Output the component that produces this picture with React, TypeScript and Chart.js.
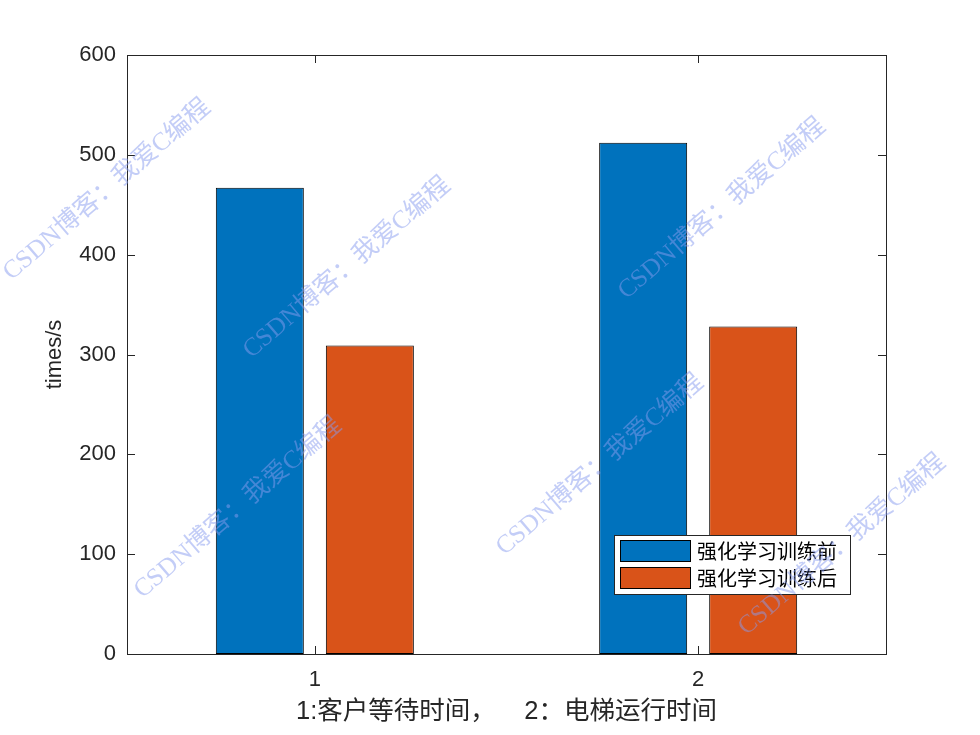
import React, { useEffect, useRef } from 'react';
import { Chart, registerables } from 'chart.js';

Chart.register(...registerables);

const categories = [1, 2];
const seriesLabels = ['强化学习训练前', '强化学习训练后'];
const beforeTraining = [467, 512];
const afterTraining = [309, 328];
const seriesColors = ['#0072BD', '#D95319'];
const yTickValues = [0, 100, 200, 300, 400, 500, 600];
const xAxisTitle = '1:客户等待时间，    2：电梯运行时间';
const yAxisTitle = 'times/s';
const watermarkText = 'CSDN博客：我爱C编程';

const watermarkSpots = [
  [107, 190],
  [347, 268],
  [238, 508],
  [722, 209],
  [600, 465],
  [842, 545],
];

const AXIS_COLOR = '#262626';
const SANS = '"Liberation Sans", Arial, "Noto Sans CJK SC", sans-serif';

const boxPlugin = {
  id: 'matlabBox',
  afterDatasetsDraw(chart: any) {
    const { ctx, chartArea } = chart;
    const { left, right, top, bottom } = chartArea;
    const xs = chart.scales.x;
    const ys = chart.scales.y;
    ctx.save();
    ctx.strokeStyle = AXIS_COLOR;
    ctx.lineWidth = 1;
    ctx.strokeRect(Math.round(left) + 0.5, Math.round(top) + 0.5, Math.round(right - left), Math.round(bottom - top));
    const tl = 8;
    ctx.beginPath();
    yTickValues.forEach((v) => {
      const y = Math.round(ys.getPixelForValue(v)) + 0.5;
      ctx.moveTo(left, y);
      ctx.lineTo(left + tl, y);
      ctx.moveTo(right, y);
      ctx.lineTo(right - tl, y);
    });
    categories.forEach((c) => {
      const x = Math.round(xs.getPixelForValue(c)) + 0.5;
      ctx.moveTo(x, bottom);
      ctx.lineTo(x, bottom - tl);
      ctx.moveTo(x, top);
      ctx.lineTo(x, top + tl);
    });
    ctx.stroke();
    ctx.restore();
  },
};

const legendPlugin = {
  id: 'boxLegend',
  afterDraw(chart: any) {
    const { ctx, chartArea } = chart;
    const w = 236;
    const h = 59;
    const bx = Math.round(chartArea.right - 36 - w);
    const by = Math.round(chartArea.bottom - 60 - h);
    ctx.save();
    ctx.fillStyle = '#ffffff';
    ctx.fillRect(bx, by, w, h);
    ctx.strokeStyle = AXIS_COLOR;
    ctx.lineWidth = 1;
    ctx.strokeRect(bx + 0.5, by + 0.5, w, h);
    chart.data.datasets.forEach((ds: any, i: number) => {
      const sy = by + 5 + i * 27;
      ctx.fillStyle = ds.backgroundColor;
      ctx.fillRect(bx + 6, sy, 70, 21);
      ctx.strokeStyle = '#000000';
      ctx.strokeRect(bx + 6.5, sy + 0.5, 70, 21);
      ctx.fillStyle = '#000000';
      ctx.font = '20px "Noto Sans CJK SC", sans-serif';
      ctx.textAlign = 'left';
      ctx.textBaseline = 'middle';
      ctx.fillText(ds.label, bx + 83, sy + 11);
    });
    ctx.restore();
  },
};

const watermarkPlugin = {
  id: 'watermark',
  afterDraw(chart: any) {
    const { ctx } = chart;
    ctx.save();
    ctx.font = '25.5px "Liberation Serif", "Noto Sans CJK SC", serif';
    ctx.textAlign = 'center';
    ctx.textBaseline = 'middle';
    ctx.fillStyle = 'rgba(135, 155, 240, 0.5)';
    watermarkSpots.forEach(([cx, cy]) => {
      ctx.save();
      ctx.translate(cx, cy);
      ctx.rotate((-40.5 * Math.PI) / 180);
      ctx.fillText(watermarkText, 0, 0);
      ctx.restore();
    });
    ctx.restore();
  },
};

export default function App() {
  const canvasRef = useRef<HTMLCanvasElement | null>(null);

  useEffect(() => {
    if (!canvasRef.current) return;
    const chart = new Chart(canvasRef.current, {
      type: 'bar',
      data: {
        datasets: [
          {
            label: seriesLabels[0],
            data: categories.map((c, i) => ({ x: c, y: beforeTraining[i] })),
            backgroundColor: seriesColors[0],
            borderColor: '#000000',
            borderWidth: 1,
            borderSkipped: false,
          },
          {
            label: seriesLabels[1],
            data: categories.map((c, i) => ({ x: c, y: afterTraining[i] })),
            backgroundColor: seriesColors[1],
            borderColor: '#000000',
            borderWidth: 1,
            borderSkipped: false,
          },
        ],
      },
      options: {
        animation: false,
        responsive: false,
        maintainAspectRatio: false,
        datasets: {
          bar: {
            categoryPercentage: 0.574,
            barPercentage: 0.8,
          },
        },
        layout: { padding: { left: 0, top: 55, right: 94, bottom: 0 } },
        plugins: {
          legend: { display: false },
          tooltip: { enabled: false },
          title: { display: false },
        },
        scales: {
          x: {
            type: 'linear',
            min: 0.51,
            max: 2.49,
            offset: false,
            grid: { display: false, drawTicks: false },
            border: { display: false },
            afterBuildTicks: (scale: any) => {
              scale.ticks = categories.map((v) => ({ value: v }));
            },
            afterFit: (scale: any) => {
              scale.height = 81;
            },
            ticks: {
              color: AXIS_COLOR,
              font: { family: SANS, size: 22 },
              padding: 13,
              maxRotation: 0,
              autoSkip: false,
            },
            title: {
              display: true,
              text: xAxisTitle,
              color: AXIS_COLOR,
              font: { family: SANS, size: 25.5 },
              padding: { top: 0, bottom: 8 },
            },
          },
          y: {
            type: 'linear',
            min: 0,
            max: 600,
            grid: { display: false, drawTicks: false },
            border: { display: false },
            afterBuildTicks: (scale: any) => {
              scale.ticks = yTickValues.map((v) => ({ value: v }));
            },
            afterFit: (scale: any) => {
              scale.width = 127;
            },
            ticks: {
              color: AXIS_COLOR,
              font: { family: SANS, size: 22 },
              padding: 11,
            },
            title: {
              display: true,
              text: yAxisTitle,
              color: AXIS_COLOR,
              font: { family: SANS, size: 22 },
              padding: { top: 42, bottom: 0 },
            },
          },
        },
      },
      plugins: [boxPlugin, legendPlugin, watermarkPlugin],
    });
    return () => chart.destroy();
  }, []);

  return (
    <div style={{ position: 'fixed', left: 0, top: 0, width: 980, height: 735, background: '#ffffff' }}>
      <canvas ref={canvasRef} width={980} height={735} style={{ width: 980, height: 735 }} />
    </div>
  );
}
